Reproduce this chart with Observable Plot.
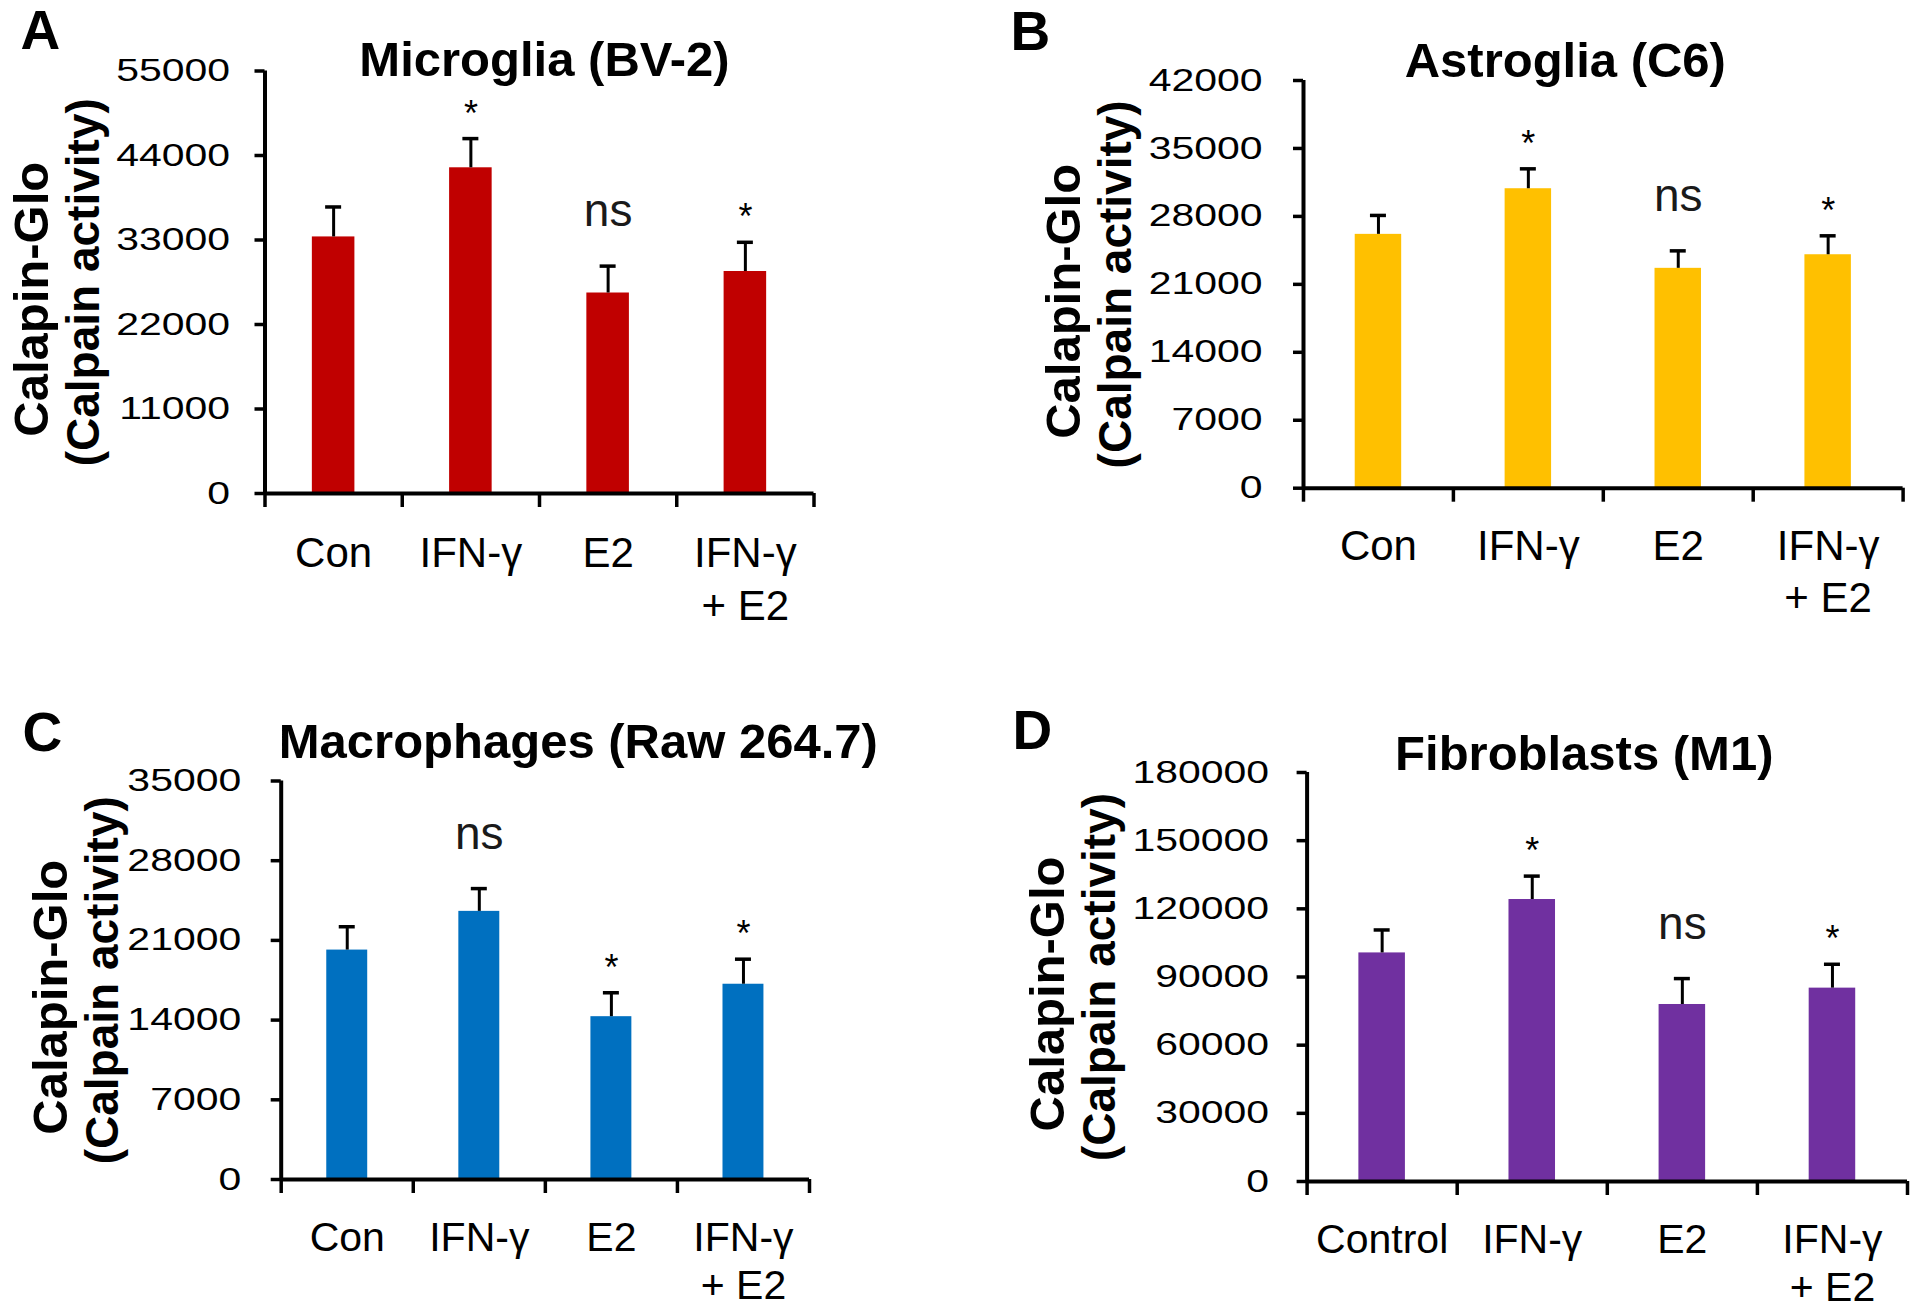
<!DOCTYPE html>
<html>
<head>
<meta charset="utf-8">
<script src="https://cdn.jsdelivr.net/npm/d3@7"></script>
<script src="https://cdn.jsdelivr.net/npm/@observablehq/plot@0.6"></script>
<style>
  html, body { margin: 0; padding: 0; background: #fff; overflow: hidden; }
  #wrap { position: relative; width: 1920px; height: 1309px; overflow: hidden; background: #fff; }
  #wrap svg { position: absolute; }
</style>
</head>
<body>
<div id="wrap"></div>
<script>
const FONT = '"Liberation Sans", Arial, Helvetica, sans-serif';

// ---------- Data ----------
const groupsShort = ["Con", "IFN-γ", "E2", "IFN-γ\n+ E2"];
const groupsLong = ["Control", "IFN-γ", "E2", "IFN-γ\n+ E2"];

const microgliaMean = [33400, 42400, 26100, 28900];
const microgliaSD = [3900, 3800, 3500, 3800];
const microgliaSig = ["", "*", "ns", "*"];
const microgliaTicks = [0, 11000, 22000, 33000, 44000, 55000];

const astrogliaMean = [26150, 30850, 22650, 24050];
const astrogliaSD = [1950, 2050, 1800, 1950];
const astrogliaSig = ["", "*", "ns", "*"];
const astrogliaTicks = [0, 7000, 14000, 21000, 28000, 35000, 42000];

const macrophageMean = [20150, 23550, 14300, 17150];
const macrophageSD = [2050, 2000, 2100, 2200];
const macrophageSig = ["", "ns", "*", "*"];
const macrophageTicks = [0, 7000, 14000, 21000, 28000, 35000];

const fibroblastMean = [100600, 124100, 77900, 85100];
const fibroblastSD = [10100, 10300, 11400, 10500];
const fibroblastSig = ["", "*", "ns", "*"];
const fibroblastTicks = [0, 30000, 60000, 90000, 120000, 150000, 180000];

const panelLetters = ["A", "B", "C", "D"];
const panelTitles = ["Microglia (BV-2)", "Astroglia (C6)", "Macrophages (Raw 264.7)", "Fibroblasts (M1)"];
const yTitleLine1 = "Calapin-Glo";
const yTitleLine2 = "(Calpain activity)";

// ---------- Layout (styles / positions only) ----------
const panels = [
  {cats: groupsShort, mean: microgliaMean, sd: microgliaSD, sig: microgliaSig, ticks: microgliaTicks, color: "#C00000",
   left: 0, top: 0, w: 960, h: 654, ml: 264.5, mr: 146.5, mt: 70.5, mb: 161, tp: 25, yt1dx: -217.5,
   titleDx: 5, titleDy: 4.5, letterX: 20, letterBase: 48, xfs: 42, xlh: 1.28, xdy: 35},
  {cats: groupsShort, mean: astrogliaMean, sd: astrogliaSD, sig: astrogliaSig, ticks: astrogliaTicks, color: "#FFC000",
   left: 960, top: 0, w: 960, h: 654, ml: 343, mr: 17.4, mt: 80, mb: 166.3, tp: 31, yt1dx: -223.5,
   titleDx: -38, titleDy: -4, letterX: 50, letterBase: 49, xfs: 42, xlh: 1.24, xdy: 35},
  {cats: groupsShort, mean: macrophageMean, sd: macrophageSD, sig: macrophageSig, ticks: macrophageTicks, color: "#0070C0",
   left: 0, top: 654, w: 960, h: 655, ml: 280.7, mr: 151, mt: 126.5, mb: 130, tp: 30, yt1dx: -214.5,
   titleDx: 33, titleDy: -23.5, letterX: 22, letterBase: 96, xfs: 41, xlh: 1.15, xdy: 38.5},
  {cats: groupsLong, mean: fibroblastMean, sd: fibroblastSD, sig: fibroblastSig, ticks: fibroblastTicks, color: "#7030A0",
   left: 960, top: 654, w: 960, h: 655, ml: 346.6, mr: 13, mt: 118, mb: 128, tp: 28, yt1dx: -243.5,
   titleDx: -23, titleDy: -3, letterX: 52, letterBase: 94, xfs: 41, xlh: 1.15, xdy: 38.5}
];

function stretch(svg, label, sx, sy = 1) {
  svg.querySelectorAll(`g[aria-label="${label}"] text`).forEach(t => {
    const tr = t.getAttribute("transform") || "";
    t.setAttribute("transform", tr + ` scale(${sx},${sy})`);
  });
}

const wrap = document.getElementById("wrap");

panels.forEach((p, k) => {
  const data = p.cats.map((c, i) => ({i, cat: c, mean: p.mean[i], sd: p.sd[i], sig: p.sig[i]}));
  const plotW = p.w - p.ml - p.mr;
  const step = plotW / 4;
  const barW = step * 0.31;
  const inset = (step - barW) / 2;
  const capHalf = 8 / step; // 8px expressed in x-scale units
  const ymax = p.ticks[p.ticks.length - 1];

  const svg = Plot.plot({
    width: p.w,
    height: p.h,
    marginLeft: p.ml,
    marginRight: p.mr,
    marginTop: p.mt,
    marginBottom: p.mb,
    style: {fontFamily: FONT, background: "transparent", color: "#000", overflow: "visible"},
    x: {type: "linear", domain: [0, 4]},
    y: {domain: [0, ymax]},
    marks: [
      Plot.rect(data, {x1: d => d.i, x2: d => d.i + 1, y1: () => 0, y2: "mean",
        fill: p.color, insetLeft: inset, insetRight: inset}),
      Plot.ruleX(data, {x: d => d.i + 0.5, y1: "mean", y2: d => d.mean + d.sd, stroke: "#000", strokeWidth: 3}),
      Plot.ruleY(data, {x1: d => d.i + 0.5 - capHalf, x2: d => d.i + 0.5 + capHalf, y: d => d.mean + d.sd,
        stroke: "#000", strokeWidth: 3.5}),
      Plot.ruleX([0], {stroke: "#000", strokeWidth: 4}),
      Plot.ruleY([0], {stroke: "#000", strokeWidth: 4}),
      Plot.axisY({ticks: p.ticks, tickSize: 10, tickPadding: p.tp, tickFormat: d => String(d),
        fontSize: 31.5, strokeWidth: 3.5, stroke: "#000", fill: "#000", label: null}),
      Plot.axisX({ticks: [0, 1, 2, 3, 4], tickSize: 14, tickFormat: () => "", strokeWidth: 3.5,
        stroke: "#000", label: null}),
      Plot.text(data, {x: d => d.i + 0.5, y: () => 0, text: "cat", dy: p.xdy, lineAnchor: "top",
        lineHeight: p.xlh, fontSize: p.xfs, fill: "#000", ariaLabel: "xlabels"}),
      Plot.text(data, {filter: d => d.sig === "*", x: d => d.i + 0.5, y: d => d.mean + d.sd, text: "sig",
        dy: -13, lineAnchor: "bottom", fontSize: 36, fill: "#000"}),
      Plot.text(data, {filter: d => d.sig === "ns", x: d => d.i + 0.5, y: d => d.mean + d.sd, text: "sig",
        dy: -40, lineAnchor: "bottom", fontSize: 46, fill: "#1a1a1a"}),
      Plot.text([panelTitles[k]], {text: d => d, frameAnchor: "top", dx: p.titleDx, dy: p.titleDy,
        lineAnchor: "bottom", fontSize: 49, fontWeight: "bold", fill: "#000"}),
      Plot.text([panelLetters[k]], {text: d => d, frameAnchor: "top-left", textAnchor: "start",
        dx: p.letterX - p.ml, dy: p.letterBase - p.mt, lineAnchor: "bottom", fontSize: 55,
        fontWeight: "bold", fill: "#000", ariaLabel: "letter"}),
      Plot.text([yTitleLine1], {text: d => d, frameAnchor: "left", dx: p.yt1dx, dy: 17, rotate: -90,
        textAnchor: "middle", lineAnchor: "bottom", fontSize: 49,
        fontWeight: "bold", fill: "#000", ariaLabel: "ytitle"}),
      Plot.text([yTitleLine2], {text: d => d, frameAnchor: "left", dx: p.yt1dx + 51, dy: 0, rotate: -90,
        textAnchor: "middle", lineAnchor: "bottom", fontSize: 46,
        fontWeight: "bold", fill: "#000", ariaLabel: "ytitle"})
    ]
  });
  svg.style.left = p.left + "px";
  svg.style.top = p.top + "px";
  stretch(svg, "y-axis tick label", 1.3);
  stretch(svg, "xlabels", 1.08);
  stretch(svg, "letter", 1.15);
  stretch(svg, "ytitle", 1, 1.12);
  wrap.appendChild(svg);
});
</script>
</body>
</html>
